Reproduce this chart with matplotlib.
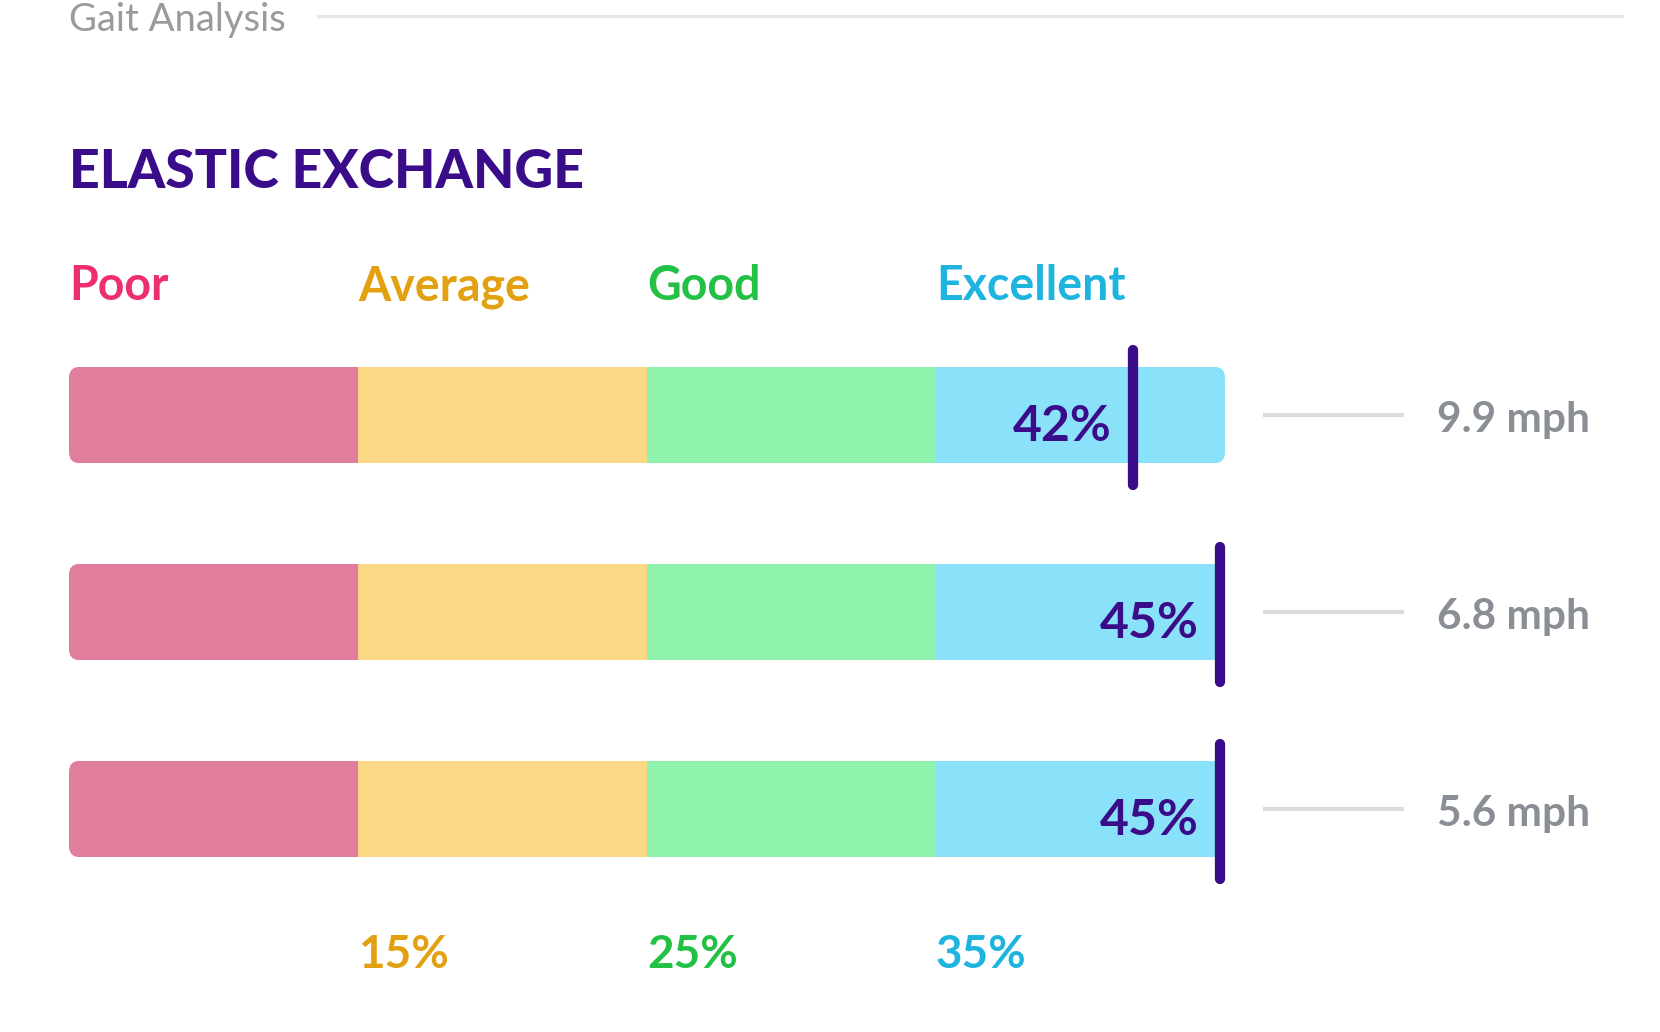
import matplotlib
matplotlib.use("Agg")
import matplotlib.pyplot as plt
from matplotlib.patches import FancyBboxPatch
import matplotlib.transforms as mtransforms

# ---- data ----
categories = ["Poor", "Average", "Good", "Excellent"]
band_edges = [5, 15, 25, 35, 45]
tick_values = [15, 25, 35]
tick_labels = ["15%", "25%", "35%"]
row_values = [42, 45, 45]
row_value_labels = ["42%", "45%", "45%"]
speed_labels = ["9.9 mph", "6.8 mph", "5.6 mph"]

# ---- style ----
band_colors = ["#E07E9B", "#FBD886", "#8EF2AC", "#8AE2FA"]
text_colors = ["#EE2F6D", "#E3A010", "#22C044", "#1EB4E0"]
purple = "#3A0C8A"
gray_text = "#8A8F95"
gray_line = "#DCDCDC"
FONT = ["Lato", "DejaVu Sans"]
plt.rcParams["font.family"] = FONT

W, H = 1660, 1032
fig = plt.figure(figsize=(W / 100, H / 100), dpi=100)
fig.patch.set_facecolor("white")

# axes: x 5..45 maps to px 69..1225 ; rows spaced 197 px, centers 415, 612, 809
left_px, right_px = 69, 1225
top_px, bot_px = 415 - 98.5, 809 + 98.5
ax = fig.add_axes([left_px / W, 1 - bot_px / H, (right_px - left_px) / W, (bot_px - top_px) / H])
ax.set_xlim(band_edges[0], band_edges[-1])
ax.set_ylim(len(row_values) - 0.5, -0.5)
ax.axis("off")

bar_h = 0.49
x_unit_px = (right_px - left_px) / (band_edges[-1] - band_edges[0])
y_unit_px = (bot_px - top_px) / len(row_values)
r_px = 11
rounding_x = r_px / x_unit_px
aspect = (r_px / y_unit_px) / rounding_x

# marker drawn so its right edge sits at the value
marker_lw = 7.4
marker_tr = ax.transData + mtransforms.ScaledTranslation(-5.0 / 100, 0, fig.dpi_scale_trans)

for i, val in enumerate(row_values):
    clip = FancyBboxPatch((band_edges[0], i - bar_h / 2), band_edges[-1] - band_edges[0], bar_h,
                          boxstyle=f"round,pad=0,rounding_size={rounding_x}",
                          mutation_aspect=aspect, facecolor="none", edgecolor="none")
    ax.add_patch(clip)
    for j in range(len(categories)):
        bars = ax.barh(i, band_edges[j + 1] - band_edges[j], left=band_edges[j], height=bar_h,
                       color=band_colors[j], edgecolor="none")
        for b in bars:
            b.set_clip_path(clip)
    # marker
    ax.plot([val, val], [i - 0.33, i + 0.357], color=purple, lw=marker_lw, transform=marker_tr,
            solid_capstyle="round", clip_on=False, zorder=5)
    ax.annotate(row_value_labels[i], (val, i), xytext=(-19, -8), textcoords="offset points",
                ha="right", va="center", fontsize=36, fontweight="bold", color=purple, zorder=6)
    # connector line and speed label
    yt = ax.get_yaxis_transform()
    ax.plot([1.033, 1.155], [i, i], transform=yt, color=gray_line, lw=3,
            clip_on=False, solid_capstyle="butt")
    ax.text(1.183, i + 0.025, speed_labels[i], transform=yt, ha="left", va="center",
            fontsize=30.5, fontweight="bold", color=gray_text, clip_on=False)

# category labels above bars
cat_tr = mtransforms.blended_transform_factory(ax.transData, fig.transFigure)
for j, cat in enumerate(categories):
    ax.text(band_edges[j], 1 - 300 / H, cat, transform=cat_tr, ha="left", va="baseline",
            fontsize=33.5, fontweight="bold", color=text_colors[j], clip_on=False)

# tick labels below
for k, (tv, tl) in enumerate(zip(tick_values, tick_labels)):
    ax.text(tv, 1 - 968 / H, tl, transform=cat_tr, ha="left", va="baseline",
            fontsize=33, fontweight="bold", color=text_colors[k + 1], clip_on=False)

# header
fig.text(69 / W, 1 - 31 / H, "Gait Analysis", ha="left", va="baseline", fontsize=27.5,
         fontweight="normal", color="#9A9A9A")
fig.add_artist(plt.Line2D([318 / W, 1622 / W], [1 - 16 / H, 1 - 16 / H], color="#E6E6E6", lw=2.2))
fig.text(69 / W, 1 - 188 / H, "ELASTIC EXCHANGE", ha="left", va="baseline", fontsize=38.5,
         fontweight="black", color=purple)

fig.savefig("out.png", dpi=100, facecolor="white")
